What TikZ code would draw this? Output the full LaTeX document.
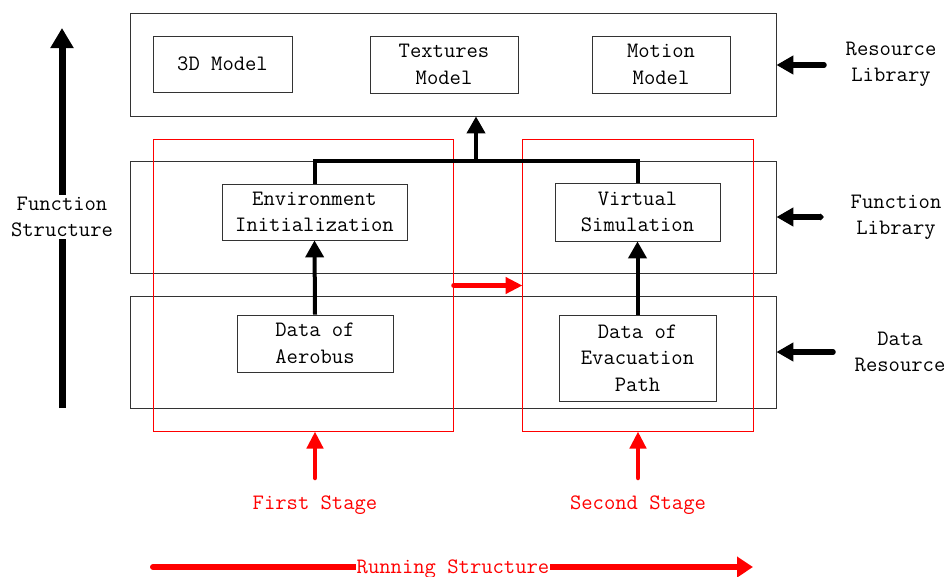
\documentclass[tikz,border=0pt]{standalone}
\usepackage{fontspec}
\usetikzlibrary{arrows.meta}

\tikzset{
  layer/.style={draw=black!80, line width=0.8pt, minimum width=646pt, inner sep=0pt},
  module/.style={draw=black!80, line width=0.8pt, align=center, inner sep=0pt,
    minimum width=150pt, minimum height=57pt},
  stagebox/.style={draw=red, line width=1pt, inner sep=0pt, outer sep=0pt},
  flow/.style={line width=4pt, -{Triangle[length=17pt,width=18pt]}},
  sideflow/.style={line width=5.5pt, line cap=round, -{Triangle[length=17pt,width=18pt]}},
  redflow/.style={red, line width=4.5pt, line cap=round, -{Triangle[length=17pt,width=16pt]}},
  label/.style={align=center, font=\ttfamily\fontsize{22}{26}\selectfont},
}

\begin{document}
\begin{tikzpicture}[x=1pt, y=-1pt, font=\ttfamily\fontsize{22}{26.5}\selectfont]
  \useasboundingbox (0,0) rectangle (947,576);

  % three layers
  \node[layer, minimum height=103pt] (resLayer) at (453,64.5) {};
  \node[layer, minimum height=112pt] (funLayer) at (453,217) {};
  \node[layer, minimum height=112pt] (dataLayer) at (453,352) {};

  % resource library
  \node[module, minimum width=139pt, minimum height=56pt] (model) at (222.5,64) {3D Model};
  \node[module, minimum width=148pt] (texture) at (444,64.5) {Textures\\Model};
  \node[module, minimum width=138pt] (motion) at (661,64.5) {Motion\\Model};

  % function library
  \node[module, minimum width=185pt, minimum height=56pt] (envInit) at (314.5,212) {Environment\\Initialization};
  \node[module, minimum width=165pt, minimum height=58pt] (virtSim) at (637.5,212) {Virtual\\Simulation};

  % data resource
  \node[module, minimum width=156pt] (aerobus) at (315,343.5) {Data of\\Aerobus};
  \node[module, minimum width=157pt, minimum height=86pt] (evac) at (637.5,358) {Data of\\Evacuation\\Path};

  % stages
  \node[stagebox, minimum width=300pt, minimum height=292pt] (stageA) at (303.5,285.5) {};
  \node[stagebox, minimum width=231pt, minimum height=292pt] (stageB) at (638,285.5) {};

  % links between modules
  \coordinate (joint) at (476,161);
  \draw[line width=4pt] (envInit.north) -- (envInit.north |- joint)
    -- (virtSim.north |- joint) -- (virtSim.north);
  \draw[flow] (joint) -- (joint |- resLayer.south);
  \draw[flow] (aerobus.north) -- (envInit.south);
  \draw[flow] (evac.north) -- (virtSim.south);

  % stage flow
  \draw[redflow] (stageA.east) -- (stageB.west);
  \node[red] (firstStage) at (315,505) {First Stage};
  \node[red] (secondStage) at (638,505) {Second Stage};
  \coordinate (firstFoot) at (315,478);
  \coordinate (secondFoot) at (638,478);
  \draw[redflow] (firstFoot) -- (firstFoot |- stageA.south);
  \draw[redflow] (secondFoot) -- (secondFoot |- stageB.south);

  % running structure
  \coordinate (runStart) at (153,567);
  \coordinate (runEnd) at (753,567);
  \draw[red, line width=6pt, line cap=round, -{Triangle[length=16pt,width=20pt]}] (runStart) -- (runEnd);
  \node[red, fill=white, inner sep=1pt] (running) at (453,569) {Running Structure};

  % function structure
  \coordinate (fsBottom) at (62,408);
  \coordinate (fsTop) at (62,28);
  \draw[line width=7pt, -{Triangle[length=20pt,width=22pt]}] (fsBottom) -- (fsTop);
  \node[label, fill=white, inner sep=2pt] (fsLabel) at (62,217) {Function\\Structure};

  % library labels on the right
  \node[label] (resLabel) at (891,64) {Resource\\Library};
  \node[label] (funLabel) at (896,217) {Function\\Library};
  \node[label] (dataLabel) at (900,352) {Data\\Resource};
  \coordinate (resTail) at (824,65);
  \coordinate (funTail) at (824,217);
  \coordinate (dataTail) at (833,352);
  \draw[sideflow] (resTail) -- (resLayer.east |- resTail);
  \draw[sideflow, {Triangle[length=4pt,width=7pt]}-{Triangle[length=17pt,width=18pt]}] (funTail) -- (funLayer.east |- funTail);
  \draw[sideflow] (dataTail) -- (dataLayer.east |- dataTail);
\end{tikzpicture}
\end{document}
